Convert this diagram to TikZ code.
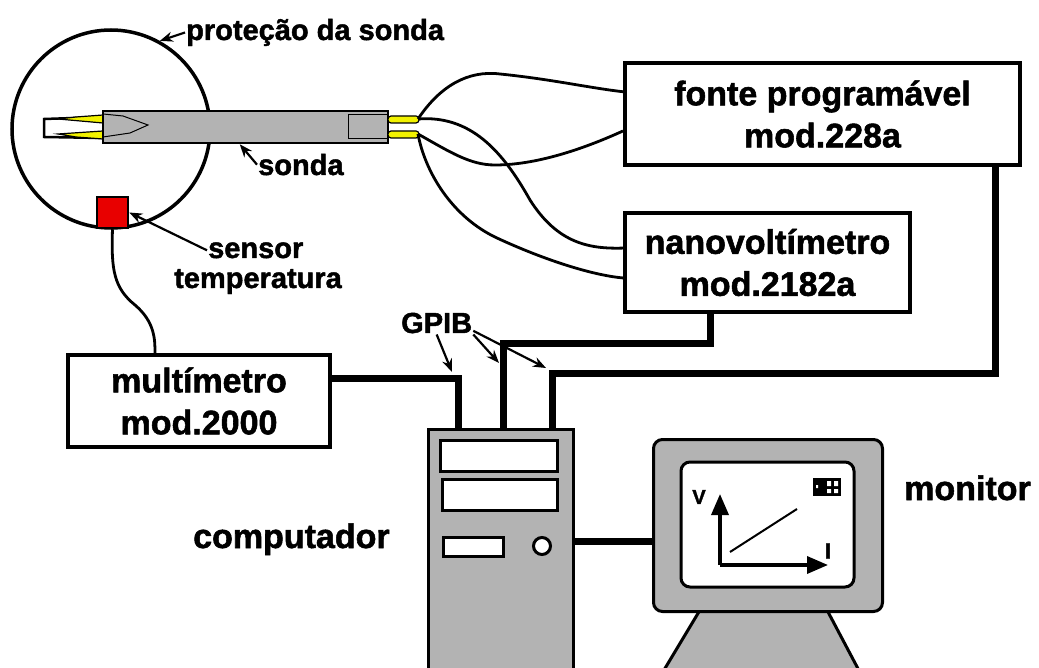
\documentclass[tikz,border=0pt]{standalone}
\usepackage{fontspec}
\setmainfont{Liberation Sans}[BoldFeatures={FakeBold=1.6}]
\usetikzlibrary{shapes.geometric, arrows, arrows.meta, positioning, calc}

\definecolor{casegray}{HTML}{B3B3B3}
\definecolor{leadyellow}{HTML}{F2F200}
\definecolor{sensred}{HTML}{E80000}

\begin{document}
\begin{tikzpicture}[x=1pt, y=-1pt, font=\bfseries\fontsize{34}{42}\selectfont]
    \tikzstyle{instr} = [rectangle, draw=black, line width=4pt, fill=white, align=center, inner sep=0pt]
    \tikzstyle{lbl} = [font=\bfseries\fontsize{29}{30}\selectfont, inner sep=1pt]
    \tikzstyle{big} = [inner sep=1pt]
    \tikzstyle{cable} = [line width=2.8pt]
    \tikzstyle{bus} = [line width=7pt]
    \tikzstyle{pointer} = [line width=2.2pt, -{Stealth[length=13pt, width=10pt]}]
    \tikzstyle{lead} = [draw=black, line width=1.2pt, fill=leadyellow]
    \tikzstyle{cased} = [draw=black, line width=3pt, fill=casegray]
    \tikzstyle{bay} = [draw=black, line width=3pt, fill=white]
    \tikzstyle{axis} = [line width=3.5pt, -{Triangle[length=21pt, width=17pt]}]

    \clip (0,0) rectangle (1039,668);

    % probe with its shield
    \node (shield) [circle, draw=black, line width=3.5pt, minimum size=198pt, inner sep=0pt] at (111,129) {};
    \draw [line width=2.5pt, fill=white] (103,117) -- (44,119) -- (44,137) -- (103,138);
    \draw [lead] (103,115) -- (76,117) -- (58,119) -- (103,123) -- cycle;
    \draw [lead] (103,131) -- (58,134) -- (76,137) -- (103,139) -- cycle;
    \node (probe) [rectangle, draw=black, line width=2.5pt, fill=casegray, minimum width=285pt, minimum height=32pt, inner sep=0pt] at (245.5,127) {};
    \draw [line width=1pt] (103,114) -- (123,116) -- (148,125) -- (130,133) -- (103,137);
    \draw [line width=1pt] (348,115) rectangle (388,139);
    \draw [lead, rounded corners=3pt] (388,116) rectangle (419,123);
    \draw [lead, rounded corners=3pt] (388,131) rectangle (419,138);
    \coordinate (lt) at (418,119);
    \coordinate (lb) at (418,134);
    \coordinate (probetip) at ($(probe.south west)!0.48!(probe.south east)$);

    \node (sensor) [rectangle, draw=black, line width=2.5pt, fill=sensred, minimum size=31pt, inner sep=0pt] at (112.5,212.5) {};

    \node (lprot) [lbl, anchor=base west] at (185,40) {proteção da sonda};
    \node (lsonda) [lbl, anchor=base west] at (257,175) {sonda};
    \node (lsensor) [lbl, anchor=base west] at (207,258) {sensor};
    \node (ltemp) [lbl, anchor=base west] at (173,288) {temperatura};
    \draw [pointer] (lprot.west) -- (shield.61);
    \draw [pointer] (lsonda.west) -- (probetip);
    \draw [pointer] (lsensor.west) -- (sensor.east);

    % instruments
    \node (fonte) [instr, minimum width=395pt, minimum height=102pt] at (822.5,114) {fonte programável\\mod.228a};
    \node (nano) [instr, minimum width=285pt, minimum height=99pt] at (767.5,262.5) {nanovoltímetro\\mod.2182a};
    \node (multi) [instr, minimum width=262pt, minimum height=92pt] at (199,401) {multímetro\\mod.2000};

    \draw [cable] (lt) .. controls (440,86) and (468,70) .. (500,74) .. controls (550,79) and (590,88) .. ($(fonte.north west)!0.29!(fonte.south west)$);
    \draw [cable] (lt) .. controls (470,115) and (502,150) .. (530,200) .. controls (558,244) and (590,249) .. ($(nano.north west)!0.36!(nano.south west)$);
    \draw [cable] (lb) .. controls (450,152) and (470,165) .. (495,165) .. controls (540,165) and (590,146) .. ($(fonte.north west)!0.66!(fonte.south west)$);
    \draw [cable] (lb) .. controls (425,172) and (452,217) .. (497,238) .. controls (540,258) and (590,275) .. ($(nano.north west)!0.65!(nano.south west)$);
    \draw [cable] (sensor.south) .. controls (111,270) and (114,288) .. (135,305) .. controls (155,322) and (155,340) .. (155,0 |- multi.north);

    % computer and GPIB bus
    \node (comp) [rectangle, cased, minimum width=145pt, minimum height=260pt, anchor=north west] at (427,428) {};
    \draw [bay] (440,440) rectangle (557,471);
    \draw [bay] (442,479) rectangle (557,510);
    \draw [bay] (443,537) rectangle (503,556);
    \draw [bay] (542,546) circle (8.5);
    \node (lcomp) [big, anchor=base west] at (192,548) {computador};

    \coordinate (gpib1) at (458,378);
    \coordinate (gpib2) at (503,344);
    \coordinate (gpib3) at (552,373);
    \draw [bus] (multi.east |- gpib1) -- (gpib1) -- (gpib1 |- comp.north);
    \draw [bus] (710,0 |- nano.south) -- (710,0 |- gpib2) -- (gpib2) -- (gpib2 |- comp.north);
    \draw [bus] (995,0 |- fonte.south) -- (995,0 |- gpib3) -- (gpib3) -- (gpib3 |- comp.north);

    \node (lgpib) [lbl, anchor=base west] at (400,333) {GPIB};
    \coordinate (tip1) at (452,372);
    \coordinate (tip2) at (499,363);
    \coordinate (tip3) at (546,368);
    \draw [pointer] (lgpib.south) -- (tip1);
    \draw [pointer] (lgpib.south east) -- (tip2);
    \draw [pointer] (lgpib.-12) -- (tip3);

    % monitor
    \draw [cased] (700,610) -- (827,610) -- (864,680) -- (658,680) -- cycle;
    \node (mon) [rectangle, cased, rounded corners=9pt, minimum width=229pt, minimum height=172pt, anchor=north west] at (652,438) {};
    \node (scr) [rectangle, bay, rounded corners=9pt, minimum width=173pt, minimum height=125pt] at (767.5,524.5) {};
    \draw [bus] (comp.east |- 0,541) -- (mon.west |- 0,541);
    \node (lmon) [big, anchor=base west] at (903,500) {monitor};

    \coordinate (orig) at (720,565);
    \draw [axis] (orig) -- (720,494);
    \draw [axis] (orig) -- (828,565);
    \draw [line width=2pt] (730,552) -- (797,509);
    \node (lv) [font=\bfseries\fontsize{20}{20}\selectfont, inner sep=0pt] at (699,497) {V};
    \node (li) [font=\bfseries\fontsize{22}{22}\selectfont, inner sep=0pt] at (828,551) {I};
    \fill (813,478) rectangle (841,496);
    \fill [white] (827,481) rectangle (831,486) (834,481) rectangle (838,486) (827,489) rectangle (831,493) (834,489) rectangle (838,493) (816,485) rectangle (818,488);
\end{tikzpicture}
\end{document}
